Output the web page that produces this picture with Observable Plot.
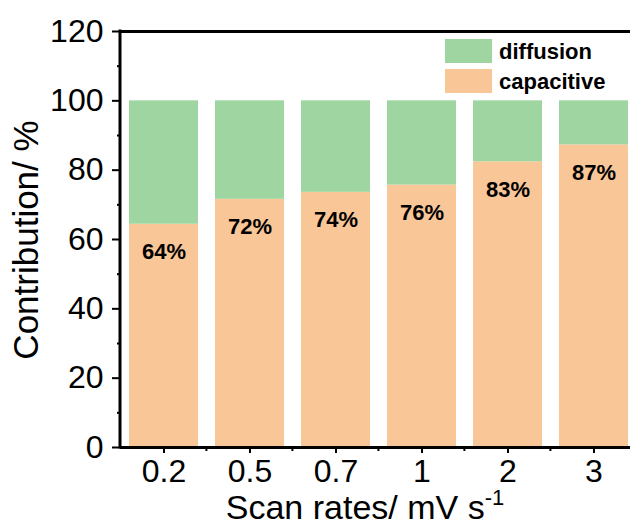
<!DOCTYPE html>
<html>
<head>
<meta charset="utf-8">
<script src="https://cdn.jsdelivr.net/npm/d3@7"></script>
<script src="https://cdn.jsdelivr.net/npm/@observablehq/plot@0.6"></script>
<style>
  html, body { margin: 0; padding: 0; background: white; }
</style>
</head>
<body>
<div id="chart"></div>
<script>
const rates = ["0.2", "0.5", "0.7", "1", "2", "3"];
const capacitive = [64.4, 71.6, 73.6, 75.7, 82.4, 87.3];
const diffusion = [35.6, 28.4, 26.4, 24.3, 17.6, 12.7];
const pctLabels = ["64%", "72%", "74%", "76%", "83%", "87%"];
const seriesNames = ["capacitive", "diffusion"];
const seriesColors = ["#f9c698", "#9ed5a0"];
const yTicks = [0, 20, 40, 60, 80, 100, 120];
const yMinorTicks = [10, 30, 50, 70, 90, 110];
const legendOrder = ["diffusion", "capacitive"];

const rows = [];
rates.forEach((r, i) => rows.push({rate: r, series: "capacitive", value: capacitive[i]}));
rates.forEach((r, i) => rows.push({rate: r, series: "diffusion", value: diffusion[i]}));
const capRows = rates.map((r, i) => ({rate: r, value: capacitive[i], label: pctLabels[i]}));

const FONT = "'Liberation Sans', Arial, sans-serif";

function frameAndMinor(index, scales, values, dim) {
  const g = d3.create("svg:g");
  const x = scales.x;
  const y0 = dim.height - dim.marginBottom;
  g.append("line")
    .attr("x1", dim.marginLeft).attr("x2", dim.marginLeft)
    .attr("y1", dim.marginTop - 1.5).attr("y2", y0 + 1.5)
    .attr("stroke", "black").attr("stroke-width", 3);
  for (let i = 0; i < rates.length - 1; i++) {
    const a = x(rates[i]), b = x(rates[i + 1]);
    const bx = b - (b - a) * 0.1;
    g.append("line")
      .attr("x1", bx).attr("x2", bx)
      .attr("y1", y0).attr("y2", y0 + 4)
      .attr("stroke", "black").attr("stroke-width", 2);
  }
  return g.node();
}

const plot = Plot.plot({
  width: 630,
  height: 531,
  marginLeft: 120,
  marginRight: -6,
  marginTop: 31,
  marginBottom: 84,
  style: {fontFamily: FONT, background: "white", color: "black"},
  x: {domain: rates, paddingInner: 0.2, paddingOuter: 0.1, label: null},
  y: {domain: [0, 120], label: null},
  color: {domain: seriesNames, range: seriesColors},
  marks: [
    Plot.barY(rows, {x: "rate", y: "value", fill: "series", order: null}),
    Plot.text(capRows, {x: "rate", y: "value", text: "label", dy: 28, fontSize: 22, fontWeight: "bold", fill: "black"}),
    Plot.axisY({ticks: yTicks, tickSize: 8, tickPadding: 9, fontSize: 32, strokeWidth: 2, label: null, tickFormat: d => String(d)}),
    Plot.axisY({ticks: yMinorTicks, tickSize: 3, text: null, strokeWidth: 2, label: null}),
    Plot.axisX({tickSize: 6, tickPadding: 6, fontSize: 32, strokeWidth: 2, label: null}),
    Plot.ruleY([0], {strokeWidth: 3}),
    Plot.ruleY([120], {strokeWidth: 3}),
    frameAndMinor
  ]
});

const svg = d3.select(plot);

svg.append("text")
  .attr("transform", "translate(38,240) rotate(-90)")
  .attr("text-anchor", "middle")
  .attr("font-family", FONT)
  .attr("font-size", 35)
  .attr("fill", "black")
  .text("Contribution/ %");

const xt = svg.append("text")
  .attr("x", 365).attr("y", 519)
  .attr("text-anchor", "middle")
  .attr("font-family", FONT)
  .attr("font-size", 34)
  .attr("fill", "black");
xt.append("tspan").text("Scan rates/ mV s");
xt.append("tspan").attr("dy", -14).attr("font-size", 22).text("-1");

legendOrder.forEach((name, i) => {
  const c = seriesColors[seriesNames.indexOf(name)];
  svg.append("rect")
    .attr("x", 445).attr("y", 39 + i * 30)
    .attr("width", 47).attr("height", 24)
    .attr("fill", c);
  svg.append("text")
    .attr("x", 499).attr("y", 51 + i * 30)
    .attr("dy", "0.35em")
    .attr("text-anchor", "start")
    .attr("font-family", FONT)
    .attr("font-size", 22)
    .attr("font-weight", "bold")
    .attr("fill", "black")
    .text(name);
});

document.getElementById("chart").appendChild(plot);
</script>
</body>
</html>
